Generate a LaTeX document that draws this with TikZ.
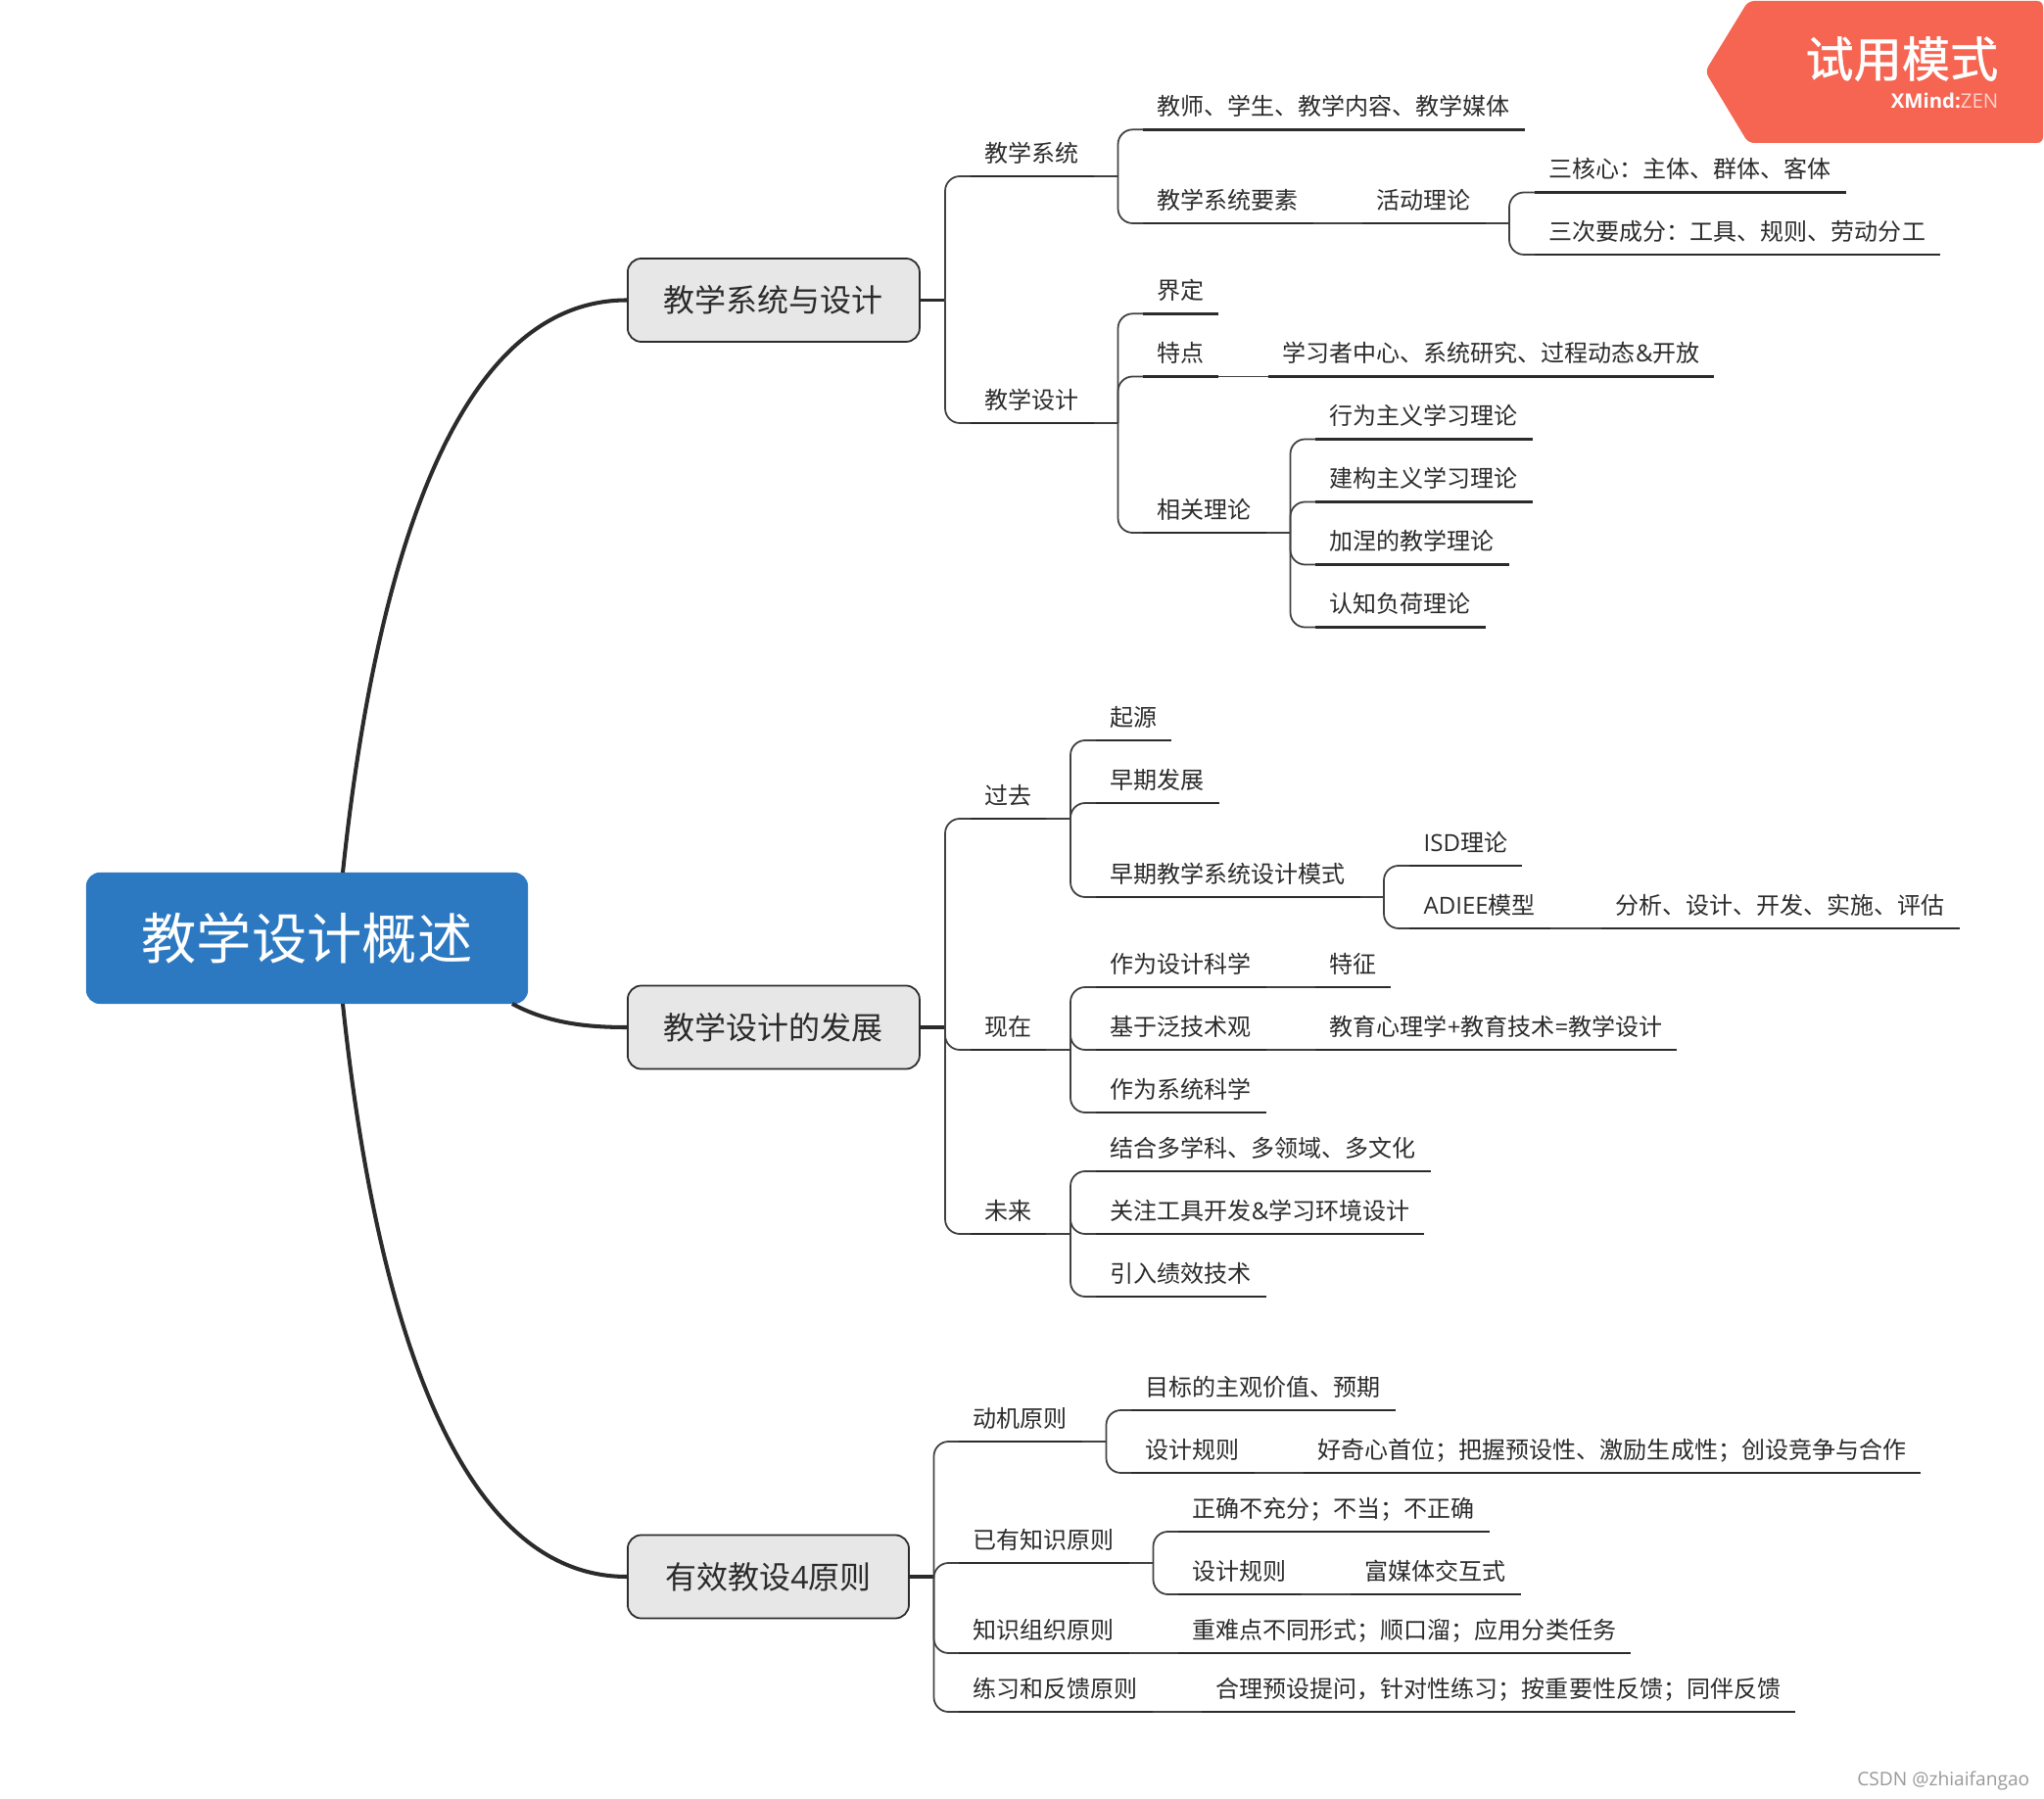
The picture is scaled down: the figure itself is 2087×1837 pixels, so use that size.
\documentclass[tikz,border=0pt]{standalone}
\usepackage{fontspec}
\setmainfont{Noto Sans CJK SC}
\newfontfamily\latfont{Open Sans}
\newfontfamily\badgefont[RawFeature={embolden=0.9}]{Noto Sans CJK SC}
\newcommand{\lat}[1]{{\latfont #1}}
\usetikzlibrary{positioning, calc}
\definecolor{inkdark}{HTML}{2B2B2B}
\definecolor{rootblue}{HTML}{2C79C1}
\definecolor{boxgray}{HTML}{E7E7E7}
\definecolor{badgered}{HTML}{F56552}
\tikzset{
  topic/.style={anchor=south west, inner xsep=.14cm, inner ysep=0pt, text height=.24cm, text depth=.14cm,
    text=inkdark, font=\fontsize{6.83pt}{8pt}\selectfont,
    append after command={(\tikzlastnode.south west) edge[underline] (\tikzlastnode.south east)}},
  underline/.style={draw=inkdark, line width=.8pt},
  link/.style={draw=inkdark!90, line width=.5pt, rounded corners=.15cm},
  stub/.style={draw=inkdark, line width=.9pt},
  mainlink/.style={draw=inkdark, line width=1.15pt},
  branch/.style={anchor=west, draw=inkdark, line width=.5pt, fill=boxgray, rounded corners=.14cm, inner xsep=.37cm,
    minimum height=.85cm, text=inkdark, font=\fontsize{9.1pt}{11pt}\selectfont},
  rootbox/.style={fill=rootblue, rounded corners=.14cm, minimum width=4.51cm, minimum height=1.34cm, text=white,
    font=\fontsize{16pt}{18pt}\selectfont}
}
\begin{document}
\begin{tikzpicture}[x=.01cm, y=-.01cm]
\useasboundingbox (0,0) rectangle (2087,1837);
% Root and main branches
\node[rootbox] (root) at (313.5,958) {教学设计概述};
\node[branch] (sysdesign) at (640,306.5) {教学系统与设计};
\node[branch] (history) at (640,1049) {教学设计的发展};
\node[branch, minimum width=2.87cm] (rules) at (640,1610) {有效教设\lat{4}原则};
\coordinate (roottop) at (350,891);
\coordinate (rootbot) at (350,1025);
\coordinate (rootside) at (523,1025);
\draw[mainlink] (roottop) .. controls (385,560) and (470,306.5) .. (sysdesign.west);
\draw[mainlink] (rootside) .. controls (560,1045) and (600,1049) .. (history.west);
\draw[mainlink] (rootbot) .. controls (385,1356) and (470,1610) .. (rules.west);

% First branch
\node[topic] (system) at (991,180) {教学系统};
\node[topic] (design) at (991,432) {教学设计};
\coordinate (busa) at (965,306.5);
\draw[stub] (sysdesign.east) -- (busa);
\foreach \kid in {system,design} \draw[link] (busa) |- (\kid.south west);

\node[topic] (members) at (1167,132.3) {教师、学生、教学内容、教学媒体};
\node[topic] (elements) at (1167,228) {教学系统要素};
\coordinate (busb) at (1141.5,180);
\draw[link] (system.south east) -- (busb);
\foreach \kid in {members,elements} \draw[link] (busb) |- (\kid.south west);

\node[topic] (activity) at (1391,228) {活动理论};
\draw[link] (elements.south east) -- (activity.south west);
\node[topic] (core) at (1567,196.5) {三核心：主体、群体、客体};
\node[topic] (parts) at (1567,260) {三次要成分：工具、规则、劳动分工};
\coordinate (busc) at (1541,228);
\draw[link] (activity.south east) -- (busc);
\foreach \kid in {core,parts} \draw[link] (busc) |- (\kid.south west);

\node[topic] (define) at (1167,320.3) {界定};
\node[topic] (feature) at (1167,384.5) {特点};
\node[topic] (theory) at (1167,544) {相关理论};
\coordinate (busd) at (1141.5,432);
\draw[link] (design.south east) -- (busd);
\foreach \kid in {define,feature,theory} \draw[link] (busd) |- (\kid.south west);

\node[topic] (learner) at (1295,384.5) {学习者中心、系统研究、过程动态\lat{\&}开放};
\draw[link] (feature.south east) -- (learner.south west);
\node[topic] (behavior) at (1343,448.5) {行为主义学习理论};
\node[topic] (construct) at (1343,512.5) {建构主义学习理论};
\node[topic] (gagne) at (1343,576.5) {加涅的教学理论};
\node[topic] (cognit) at (1343,640.5) {认知负荷理论};
\coordinate (buse) at (1317.5,544);
\draw[link] (theory.south east) -- (buse);
\foreach \kid in {behavior,construct,gagne,cognit} \draw[link] (buse) |- (\kid.south west);

% Second branch
\node[topic] (past) at (991,836) {过去};
\node[topic] (now) at (991,1072) {现在};
\node[topic] (future) at (991,1260) {未来};
\coordinate (busf) at (965,1049);
\draw[stub] (history.east) -- (busf);
\foreach \kid in {past,now,future} \draw[link] (busf) |- (\kid.south west);

\node[topic] (origin) at (1119,756) {起源};
\node[topic] (early) at (1119,820) {早期发展};
\node[topic] (model) at (1119,916) {早期教学系统设计模式};
\coordinate (busg) at (1093,836);
\draw[link] (past.south east) -- (busg);
\foreach \kid in {origin,early,model} \draw[link] (busg) |- (\kid.south west);

\node[topic] (isd) at (1439,884) {\lat{ISD}理论};
\node[topic] (adiee) at (1439,948) {\lat{ADIEE}模型};
\coordinate (bush) at (1413,916);
\draw[link] (model.south east) -- (bush);
\foreach \kid in {isd,adiee} \draw[link] (bush) |- (\kid.south west);
\node[topic] (steps) at (1635,948) {分析、设计、开发、实施、评估};
\draw[link] (adiee.south east) -- (steps.south west);

\node[topic] (science) at (1119,1008) {作为设计科学};
\node[topic] (pantech) at (1119,1072) {基于泛技术观};
\node[topic] (syssci) at (1119,1136) {作为系统科学};
\coordinate (busi) at (1093,1072);
\draw[link] (now.south east) -- (busi);
\foreach \kid in {science,pantech,syssci} \draw[link] (busi) |- (\kid.south west);
\node[topic] (trait) at (1343,1008) {特征};
\draw[link] (science.south east) -- (trait.south west);
\node[topic] (formula) at (1343,1072) {教育心理学\lat{+}教育技术\lat{=}教学设计};
\draw[link] (pantech.south east) -- (formula.south west);

\node[topic] (multi) at (1119,1196) {结合多学科、多领域、多文化};
\node[topic] (tools) at (1119,1260) {关注工具开发\lat{\&}学习环境设计};
\node[topic] (perform) at (1119,1324) {引入绩效技术};
\coordinate (busj) at (1093,1260);
\draw[link] (future.south east) -- (busj);
\foreach \kid in {multi,tools,perform} \draw[link] (busj) |- (\kid.south west);

% Third branch
\node[topic] (motive) at (979,1472) {动机原则};
\node[topic] (prior) at (979,1596) {已有知识原则};
\node[topic] (organize) at (979,1688) {知识组织原则};
\node[topic] (practice) at (979,1748) {练习和反馈原则};
\coordinate (busk) at (953.5,1610);
\draw[stub] (rules.east) -- (busk);
\foreach \kid in {motive,prior,organize,practice} \draw[link] (busk) |- (\kid.south west);

\node[topic] (value) at (1155,1440) {目标的主观价值、预期};
\node[topic] (rulea) at (1155,1504) {设计规则};
\coordinate (busl) at (1129.5,1472);
\draw[link] (motive.south east) -- (busl);
\foreach \kid in {value,rulea} \draw[link] (busl) |- (\kid.south west);
\node[topic] (curious) at (1331,1504) {好奇心首位；把握预设性、激励生成性；创设竞争与合作};
\draw[link] (rulea.south east) -- (curious.south west);

\node[topic] (correct) at (1203,1564) {正确不充分；不当；不正确};
\node[topic] (ruleb) at (1203,1628) {设计规则};
\coordinate (busm) at (1177.5,1596);
\draw[link] (prior.south east) -- (busm);
\foreach \kid in {correct,ruleb} \draw[link] (busm) |- (\kid.south west);
\node[topic] (media) at (1379,1628) {富媒体交互式};
\draw[link] (ruleb.south east) -- (media.south west);

\node[topic] (focus) at (1203,1688) {重难点不同形式；顺口溜；应用分类任务};
\draw[link] (organize.south east) -- (focus.south west);
\node[topic] (ask) at (1227,1748) {合理预设提问，针对性练习；按重要性反馈；同伴反馈};
\draw[link] (practice.south east) -- (ask.south west);

% Trial badge
\fill[badgered, rounded corners=.06cm] (1785,1) -- (2086,1) -- (2086,146) -- (1785,146) -- (1741,73) -- cycle;
\node[anchor=east, text=white, inner sep=0pt, font=\badgefont\fontsize{14pt}{16pt}\selectfont] (badge) at (2041,60) {试用模式};
\node[anchor=east, text=white, inner sep=0pt, font=\latfont\fontsize{5.8pt}{7pt}\selectfont] (brand) at (2041,103) {\textbf{XMind:}{\color{white!70!badgered}ZEN}};

% Watermark
\node[anchor=east, text=black!40, inner sep=0pt, font=\latfont\fontsize{5.45pt}{7pt}\selectfont] (mark) at (2073,1818) {CSDN @zhiaifangao};
\end{tikzpicture}
\end{document}
